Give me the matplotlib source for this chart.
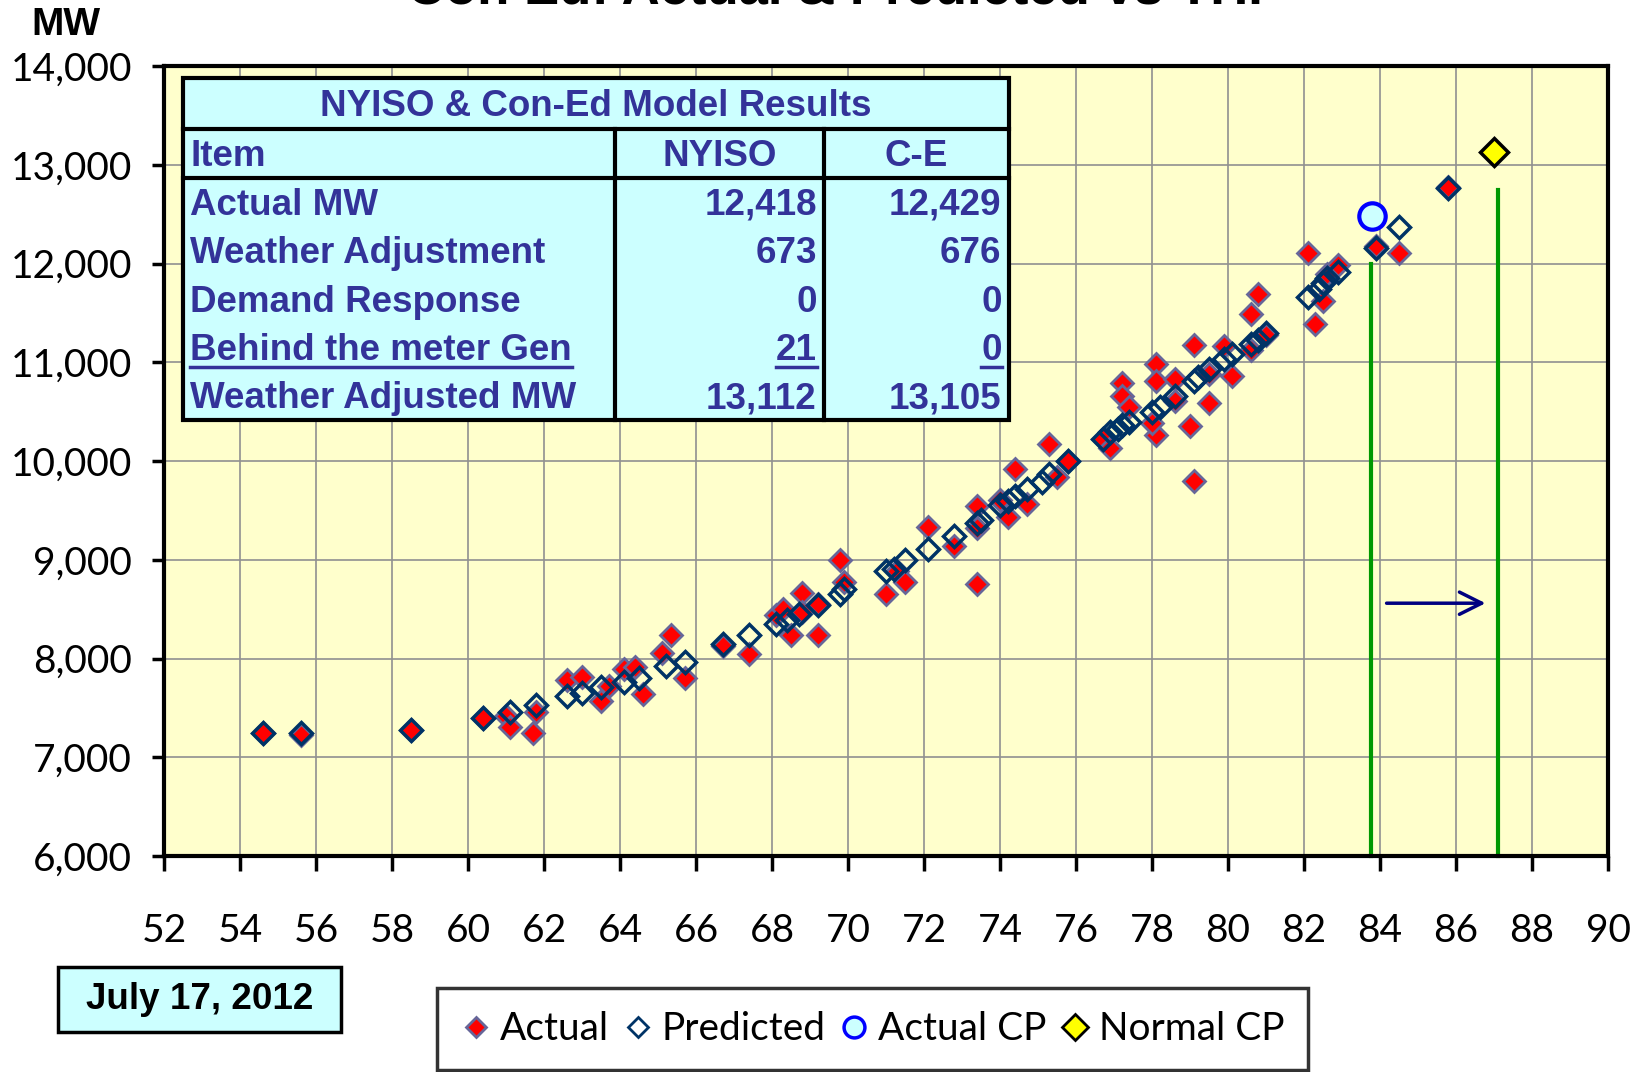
import matplotlib
matplotlib.use('Agg')
import matplotlib.pyplot as plt
from matplotlib.patches import Rectangle
from matplotlib.ticker import FuncFormatter, MultipleLocator
from matplotlib.lines import Line2D

# data (THI vs MW)
actualX = [54.6, 55.6, 58.5, 60.4, 61.0, 61.1, 61.7, 61.8, 62.6, 63.0, 63.5, 63.7,
           64.1, 64.4, 64.6, 65.1, 65.35, 65.7, 66.7, 67.4, 68.1, 68.3, 68.5, 68.8,
           68.8, 69.2, 69.2, 69.8, 69.9, 71.0, 71.3, 71.5, 72.1, 72.8, 73.4, 73.4,
           73.4, 74.0, 74.2, 74.4, 74.7, 75.3, 75.5, 75.8, 76.7, 76.9, 77.2, 77.2,
           77.4, 78.1, 78.1, 78.1, 78.0, 78.6, 78.6, 79.0, 79.1, 79.1, 79.5, 79.5,
           79.9, 80.1, 80.6, 80.6, 80.8, 81.0, 82.1, 82.3, 82.5, 82.6, 82.9, 83.9,
           84.5, 85.8]
actualY = [7250, 7230, 7280, 7400, 7420, 7310, 7250, 7460, 7780, 7810, 7570, 7720,
           7890, 7910, 7640, 8060, 8240, 7800, 8130, 8050, 8440, 8500, 8240, 8660,
           8470, 8240, 8550, 9000, 8770, 8650, 8890, 8770, 9330, 9140, 9320, 9540,
           8750, 9610, 9430, 9920, 9560, 10170, 9840, 10000, 10220, 10130, 10790, 10660,
           10550, 10980, 10810, 10260, 10380, 10610, 10830, 10350, 11170, 9800, 10590, 10880,
           11160, 10860, 11490, 11120, 11690, 11280, 12110, 11390, 11620, 11890, 11980, 12180,
           12110, 12780]
predX = [54.6, 55.6, 58.5, 60.4, 61.1, 61.8, 62.6, 63.0, 63.5, 64.1, 64.5, 65.2,
         65.7, 66.7, 67.4, 68.1, 68.4, 68.7, 69.2, 69.8, 69.9, 71.0, 71.2, 71.5,
         72.1, 72.8, 73.4, 73.5, 74.0, 74.2, 74.4, 74.7, 75.1, 75.3, 75.8, 76.7,
         76.9, 77.1, 77.2, 77.4, 78.0, 78.2, 78.6, 79.1, 79.2, 79.5, 79.9, 80.1,
         80.6, 80.8, 81.0, 82.1, 82.4, 82.5, 82.6, 82.9, 83.9, 84.5, 85.8]
predY = [7250, 7250, 7280, 7400, 7460, 7530, 7620, 7650, 7710, 7760, 7800, 7920,
         7960, 8150, 8240, 8350, 8390, 8450, 8540, 8650, 8700, 8890, 8910, 9000,
         9110, 9240, 9370, 9400, 9550, 9600, 9650, 9720, 9790, 9870, 10000, 10220,
         10290, 10320, 10360, 10400, 10500, 10550, 10660, 10810, 10850, 10930, 11030, 11080,
         11180, 11230, 11300, 11660, 11740, 11800, 11850, 11910, 12160, 12370, 12760]
actualCP = (83.8, 12480)
normalCP = (87.0, 13130)
cpLines = [(83.75, 12000), (87.1, 12740)]
arrowFrom = (84.1, 8560)
arrowTo = (86.85, 8560)

tableTitle = 'NYISO & Con-Ed Model Results'
tableHeader = ['Item', 'NYISO', 'C-E']
tableItems = ['Actual MW', 'Weather Adjustment', 'Demand Response',
              'Behind the meter Gen', 'Weather Adjusted MW']
nyisoVals = ['12,418', '673', '0', '21', '13,112']
ceVals = ['12,429', '676', '0', '0', '13,105']
underlinedRow = 3

fig = plt.figure(figsize=(16.4, 10.72), dpi=100)
ax = fig.add_axes([0.100, 0.2015, 0.8805, 0.7369])
ax.set_facecolor('#FFFFCC')
ax.set_xlim(52, 90)
ax.set_ylim(6000, 14000)
ax.xaxis.set_major_locator(MultipleLocator(2))
ax.yaxis.set_major_locator(MultipleLocator(1000))
ax.yaxis.set_major_formatter(FuncFormatter(lambda v, p: f'{int(v):,}'))
ax.grid(True, color='#909090', lw=1.2)
ax.set_axisbelow(True)
for s in ax.spines.values():
    s.set_linewidth(3)
    s.set_color('black')
ax.tick_params(axis='y', length=9, width=2.5, pad=14, labelsize=28)
ax.tick_params(axis='x', length=11, width=2.5, pad=30, labelsize=28)
for lab in ax.get_xticklabels() + ax.get_yticklabels():
    lab.set_family('Lato')

# green lines and arrow
for x, top in cpLines:
    ax.plot([x, x], [6000, top], color='#009900', lw=3, zorder=2, clip_on=False)
ax.annotate('', xy=arrowTo, xytext=arrowFrom,
            arrowprops=dict(arrowstyle='->', color='#000080', lw=2.5, mutation_scale=40))

ax.plot(actualX, actualY, 'D', ms=11, mfc='red', mec='#666699', mew=2, zorder=3,
        label='Actual')
ax.plot(predX, predY, 'D', ms=11, mfc='none', mec='#003366', mew=2.5, zorder=4,
        label='Predicted')
ax.plot([actualCP[0]], [actualCP[1]], 'o', ms=19, mfc='#CCFFFF', mec='#0000FF', mew=3,
        zorder=5, label='Actual CP')
ax.plot([normalCP[0]], [normalCP[1]], 'D', ms=14, mfc='#FFFF00', mec='black', mew=2.5,
        zorder=5, label='Normal CP')

# results table (axes fraction coordinates)
tl, tr = 0.0132, 0.585
c1, c2 = 0.3123, 0.457
ttop, tmid, thead, tbot = 0.9848, 0.9203, 0.8582, 0.5519
tc = '#333399'
tf = dict(family='Liberation Sans', weight='bold', fontsize=26.5, color=tc,
          transform=ax.transAxes, zorder=11)
ax.add_patch(Rectangle((tl, tbot), tr - tl, ttop - tbot, transform=ax.transAxes,
                       facecolor='#CCFFFF', edgecolor='black', lw=3, zorder=10))
lk = dict(color='black', lw=3, transform=ax.transAxes, zorder=11)
ax.plot([tl, tr], [tmid, tmid], **lk)
ax.plot([tl, tr], [thead, thead], **lk)
ax.plot([c1, c1], [tbot, tmid], **lk)
ax.plot([c2, c2], [tbot, tmid], **lk)
ax.text((tl + tr) / 2, (ttop + tmid) / 2 - 0.004, tableTitle, ha='center', va='center', **tf)
hy = (tmid + thead) / 2 - 0.004
ax.text(tl + 0.005, hy, tableHeader[0], ha='left', va='center', **tf)
ax.text((c1 + c2) / 2, hy, tableHeader[1], ha='center', va='center', **tf)
ax.text((c2 + tr) / 2, hy, tableHeader[2], ha='center', va='center', **tf)
rh = (thead - tbot) / len(tableItems)
texts_ul = []
for i, (item, nv, cv) in enumerate(zip(tableItems, nyisoVals, ceVals)):
    y = thead - rh * (i + 0.5) - 0.004
    t1 = ax.text(tl + 0.005, y, item, ha='left', va='center', **tf)
    t2 = ax.text(c2 - 0.005, y, nv, ha='right', va='center', **tf)
    t3 = ax.text(tr - 0.005, y, cv, ha='right', va='center', **tf)
    if i == underlinedRow:
        texts_ul = [t1, t2, t3]

fig.canvas.draw()
inv = ax.transAxes.inverted()
for t in texts_ul:
    bb = t.get_window_extent()
    (x0, y0), (x1, _) = inv.transform([(bb.x0, bb.y0), (bb.x1, bb.y1)])
    ax.plot([x0, x1], [y0 + 0.002, y0 + 0.002], color=tc, lw=2.5,
            transform=ax.transAxes, zorder=12)

# title (mostly cut off at the top), MW label, date box
fig.text(0.509, 0.9965, 'Con Ed: Actual & Predicted vs THI', ha='center', va='baseline',
         family='Liberation Sans', weight='bold', fontsize=38)
fig.text(0.019, 0.967, 'MW', ha='left', va='baseline', family='Liberation Sans',
         weight='bold', fontsize=28)
fig.patches.append(Rectangle((0.0354, 0.0373), 0.1726, 0.0606, transform=fig.transFigure,
                             facecolor='#CCFFFF', edgecolor='black', lw=2.5))
fig.text(0.1217, 0.0676, 'July 17, 2012', ha='center', va='center',
         family='Liberation Sans', weight='bold', fontsize=26.5)

handles = [
    Line2D([], [], ls='none', marker='D', ms=10, mfc='red', mec='#666699', mew=2),
    Line2D([], [], ls='none', marker='D', ms=10, mfc='none', mec='#003366', mew=2),
    Line2D([], [], ls='none', marker='o', ms=15, mfc='#CCFFFF', mec='#0000FF', mew=2.5),
    Line2D([], [], ls='none', marker='D', ms=13, mfc='#FFFF00', mec='black', mew=2),
]
leg = fig.legend(handles, ['Actual', 'Predicted', 'Actual CP', 'Normal CP'],
                 loc='center', bbox_to_anchor=(0.532, 0.040), ncol=4,
                 prop=dict(family='Lato', size=28), frameon=True, fancybox=False,
                 handlelength=0.8, handletextpad=0.2, columnspacing=0.35,
                 borderpad=0.6, borderaxespad=0)
leg.get_frame().set_edgecolor('black')
leg.get_frame().set_linewidth(2.5)

fig.savefig('out.png', dpi=100)
